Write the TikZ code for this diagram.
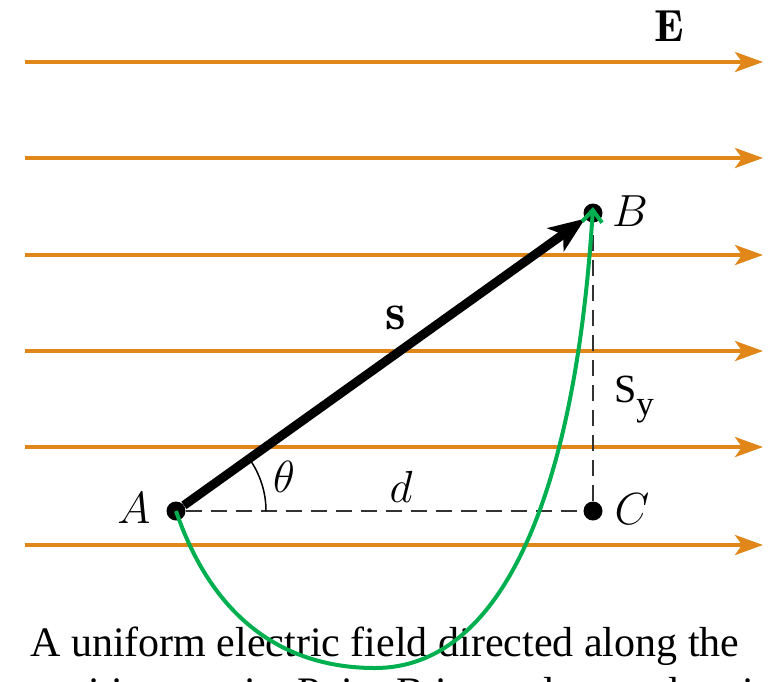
\RequirePackage{fix-cm}
\documentclass[tikz,border=0pt]{standalone}
\usepackage{fontspec}
\newfontfamily\capfont{Liberation Serif}
\usetikzlibrary{arrows.meta}
\definecolor{fieldorange}{RGB}{225,135,25}
\definecolor{pathgreen}{RGB}{0,176,80}
\definecolor{dashgray}{RGB}{50,50,50}
\begin{document}
\begin{tikzpicture}[x=1pt,y=-1pt,
  fieldline/.style={draw=fieldorange,line width=4pt,-{Stealth[length=28pt,width=20pt,inset=7pt]}},
  ptdot/.style={circle,fill=black,inner sep=0pt,minimum size=19pt},
  lbl/.style={font=\fontsize{45}{47}\selectfont,inner sep=0pt},
  guide/.style={draw=dashgray,line width=2.2pt,dash pattern=on 16pt off 9pt},
  vec/.style={draw=black,line width=9pt,-{Stealth[length=36pt,width=28pt,inset=9pt]}},
  greenpath/.style={draw=pathgreen,line width=4pt,-{Straight Barb[length=12pt,width=20pt]}}]
\useasboundingbox (0,0) rectangle (770,681);
\begin{scope}
\clip (0,0) rectangle (770,681);
% field lines
\foreach \y/\n in {62/1,158/2,255/3,351/4,447/5,545/6}{
  \coordinate (fl\n) at (25,\y);
  \coordinate (fr\n) at (763,\y);
  \draw[fieldline] (fl\n) -- (fr\n);
}
\node[lbl] (E) at (669,26) {$\mathbf{E}$};
% points
\node[ptdot] (A) at (176,511) {};
\node[ptdot] (B) at (593,213) {};
\node[ptdot] (C) at (593,511) {};
\draw[guide] (A) -- (C);
\draw[guide] (C) -- (B);
\draw[vec] (A) -- (B);
\draw[line width=1.5pt] (A.center) ++(90,0) arc[start angle=0,end angle=-35.5,radius=90];
% labels
\node[lbl] (lA) at (134,508) {$A$};
\node[lbl] (lB) at (630,211) {$B$};
\node[lbl] (lC) at (632,509) {$C$};
\node[lbl] (lth) at (284,477) {$\theta$};
\node[lbl] (ld) at (401,487) {$d$};
\node[lbl,font=\fontsize{52}{54}\selectfont] (ls) at (396,318) {$\mathbf{s}$};
\node[inner sep=0pt,anchor=base west,font=\capfont\fontsize{40}{42}\selectfont] (lsy) at (614,402) {S\raisebox{-13pt}{\fontsize{35}{37}\selectfont y}};
% caption
\node[inner sep=0pt,anchor=base west,font=\capfont\fontsize{42}{44}\selectfont] (cap1) at (30,656) {A uniform electric field directed along the};
\node[inner sep=0pt,anchor=base west,font=\capfont\fontsize{42}{44}\selectfont] (cap2) at (30,706) {positive x axis. Point B is at a lower electric potential};
% green path
\coordinate (bot) at (375,668);
\draw[greenpath] (A.center) .. controls (215,625) and (290,668) .. (bot)
  .. controls (500,668) and (575,500) .. ([yshift=6pt]B.center);
\end{scope}
\end{tikzpicture}
\end{document}
